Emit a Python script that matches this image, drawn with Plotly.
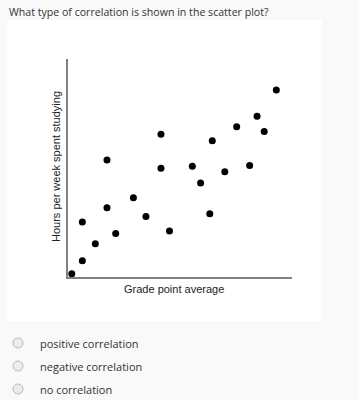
import plotly.graph_objects as go

# Data (arbitrary units)
gpa = [0.17, 0.64, 1.22, 0.64, 2.13, 1.74, 2.92, 3.48, 4.53, 1.74, 4.15,
       4.15, 5.55, 5.92, 6.33, 6.44, 7.00, 7.53, 8.11, 8.44, 8.76, 9.30]
hours = [0.15, 0.75, 1.53, 2.52, 1.99, 3.18, 3.64, 2.78, 2.11, 5.37, 6.55,
         4.99, 5.08, 4.31, 2.90, 6.25, 4.83, 6.89, 5.11, 7.37, 6.67, 8.58]
question = "What type of correlation is shown in the scatter plot?"
options = ["positive correlation", "negative correlation", "no correlation"]
x_title = "Grade point average"
y_title = "Hours per week spent studying"

W, H = 358, 400
L, R, T, B = 68, 292, 59, 277  # plot area in pixels


def px(x):
    return (x - L) / (R - L)


def py(y):
    return (B - y) / (B - T)


fig = go.Figure()
fig.add_trace(go.Scatter(x=gpa, y=hours, mode="markers",
                         marker=dict(color="black", size=7),
                         cliponaxis=False, hoverinfo="skip"))

shapes = [dict(type="rect", xref="paper", yref="paper", layer="below",
               x0=px(7), x1=px(322), y0=py(321), y1=py(20),
               fillcolor="white", line=dict(width=0))]
annotations = [
    dict(text=question, xref="paper", yref="paper", x=px(7), y=py(12),
         xanchor="left", yanchor="middle", showarrow=False,
         font=dict(family="Open Sans", size=10.6, color="#333333")),
    dict(text=x_title, xref="paper", yref="paper", x=px(174), y=py(289),
         xanchor="center", yanchor="middle", showarrow=False,
         font=dict(family="Liberation Sans", size=11, color="#222222")),
    dict(text=y_title, xref="paper", yref="paper", x=px(56), y=py(167),
         xanchor="center", yanchor="middle", showarrow=False, textangle=-90,
         font=dict(family="Liberation Sans", size=11, color="#222222")),
]
for i, opt in enumerate(options):
    cy = 343 + 23 * i
    shapes.append(dict(type="circle", xref="paper", yref="paper",
                       x0=px(13), x1=px(23), y0=py(cy + 5), y1=py(cy - 5),
                       fillcolor="#ececec", line=dict(color="#b8b8b8", width=1)))
    annotations.append(dict(text=opt, xref="paper", yref="paper", x=px(38), y=py(cy),
                            xanchor="left", yanchor="middle", showarrow=False,
                            font=dict(family="Open Sans", size=11, color="#333333")))

fig.update_layout(
    width=W, height=H,
    margin=dict(l=L, r=W - R, t=T, b=H - B, pad=0),
    paper_bgcolor="#f9f9f9", plot_bgcolor="white",
    showlegend=False,
    shapes=shapes, annotations=annotations,
    xaxis=dict(range=[0, 10], showgrid=False, zeroline=False, showticklabels=False,
               ticks="", showline=True, linecolor="#808080", linewidth=2, fixedrange=True),
    yaxis=dict(range=[0, 10], showgrid=False, zeroline=False, showticklabels=False,
               ticks="", showline=True, linecolor="#808080", linewidth=2, fixedrange=True),
)
fig.write_html("out.html", config={"displayModeBar": False},
               post_script="document.body.style.margin='0';"
                           "document.body.style.overflow='hidden';"
                           "document.body.style.background='#f9f9f9';")
